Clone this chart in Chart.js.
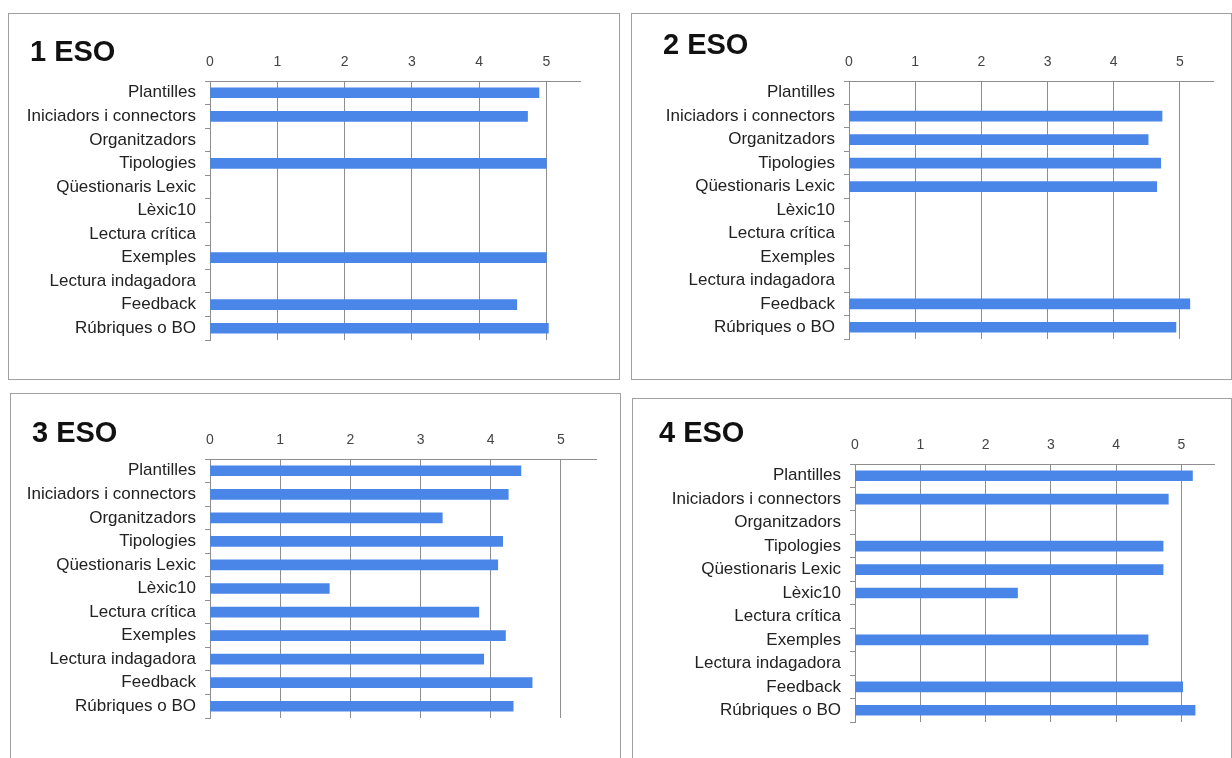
<!DOCTYPE html>
<html>
<head>
<meta charset="utf-8">
<script src="https://cdn.jsdelivr.net/npm/chart.js@4.4.1/dist/chart.umd.min.js"></script>
<style>
 html, body { margin: 0; padding: 0; background: #fff; overflow: hidden; }
 body { width: 1232px; height: 758px; position: relative; }
 .box { position: absolute; border: 1px solid #a0a0a0; box-sizing: border-box; background: #fff; }
 .box canvas { position: absolute; left: 0; top: 0; }
 .title { position: absolute; font: bold 29px "Liberation Sans", Arial, sans-serif; line-height: 29px; color: #111; white-space: nowrap; }
</style>
</head>
<body>
<script>
const categories = [
 "Plantilles", "Iniciadors i connectors", "Organitzadors", "Tipologies",
 "Qüestionaris Lexic", "Lèxic10", "Lectura crítica", "Exemples",
 "Lectura indagadora", "Feedback", "Rúbriques o BO"
];
const titles = ["1 ESO", "2 ESO", "3 ESO", "4 ESO"];
const valuesESO1 = [4.89, 4.72, null, 5.0, null, null, null, 5.0, null, 4.56, 5.03];
const valuesESO2 = [null, 4.73, 4.52, 4.71, 4.65, null, null, null, null, 5.15, 4.94];
const valuesESO3 = [4.43, 4.25, 3.31, 4.17, 4.10, 1.70, 3.83, 4.21, 3.90, 4.59, 4.32];
const valuesESO4 = [5.17, 4.80, null, 4.72, 4.72, 2.49, null, 4.49, null, 5.02, 5.21];
const tickValues = [0, 1, 2, 3, 4, 5];
const axisMax = 5.5;

// box = outer frame, area = plot area (page coords), title = left/top of the heading
const panels = [
 { values: valuesESO1, box: [8, 13, 612, 367], area: [210, 81, 580, 340], title: [30, 37] },
 { values: valuesESO2, box: [631, 13, 601, 367], area: [849, 81, 1213, 339], title: [663, 30] },
 { values: valuesESO3, box: [10, 393, 611, 385], area: [210, 459, 596, 718], title: [32, 418] },
 { values: valuesESO4, box: [632, 398, 600, 380], area: [855, 464, 1214, 722], title: [659, 418] }
];

const gridColor = "#8e8e8e";
const barColor = "#4a86e8";
const xAxisHeight = 30;

function makePanel(p, i) {
 const [bl, bt, bw, bh] = p.box;
 const [al, at, ar, ab] = p.area;
 const box = document.createElement("div");
 box.className = "box";
 box.style.left = bl + "px";
 box.style.top = bt + "px";
 box.style.width = bw + "px";
 box.style.height = bh + "px";
 document.body.appendChild(box);

 const cx = bl + 1, cy = bt + 1, cw = bw - 2, ch = bh - 2;
 const canvas = document.createElement("canvas");
 canvas.width = cw;
 canvas.height = ch;
 canvas.style.width = cw + "px";
 canvas.style.height = ch + "px";
 box.appendChild(canvas);

 const title = document.createElement("div");
 title.className = "title";
 title.textContent = titles[i];
 title.style.left = p.title[0] + "px";
 title.style.top = p.title[1] + "px";
 document.body.appendChild(title);

 const yWidth = al - cx;
 new Chart(canvas.getContext("2d"), {
 type: "bar",
 data: {
 labels: categories,
 datasets: [{
 label: titles[i],
 data: p.values,
 backgroundColor: barColor,
 barThickness: 10
 }]
 },
 options: {
 indexAxis: "y",
 responsive: false,
 animation: false,
 devicePixelRatio: 1,
 layout: {
 padding: {
 left: 0,
 top: at - cy - xAxisHeight,
 right: cx + cw - ar,
 bottom: cy + ch - ab
 }
 },
 plugins: { legend: { display: false }, tooltip: { enabled: false } },
 scales: {
 x: {
 position: "top",
 min: 0,
 max: axisMax,
 afterBuildTicks: s => { s.ticks = tickValues.map(v => ({ value: v })); },
 afterFit: s => { s.height = xAxisHeight; },
 ticks: {
 padding: 10,
 color: "#444",
 font: { family: "'Liberation Sans', Arial, sans-serif", size: 14 }
 },
 grid: { color: gridColor, drawTicks: false, lineWidth: 1 },
 border: { color: gridColor }
 },
 y: {
 afterFit: s => { s.width = yWidth; },
 ticks: {
 padding: 9,
 color: "#222",
 font: { family: "'Liberation Sans', Arial, sans-serif", size: 17 }
 },
 grid: { color: gridColor, drawOnChartArea: false, tickLength: 5, offset: true },
 border: { color: gridColor }
 }
 }
 }
 });
}

panels.forEach(makePanel);
</script>
</body>
</html>
